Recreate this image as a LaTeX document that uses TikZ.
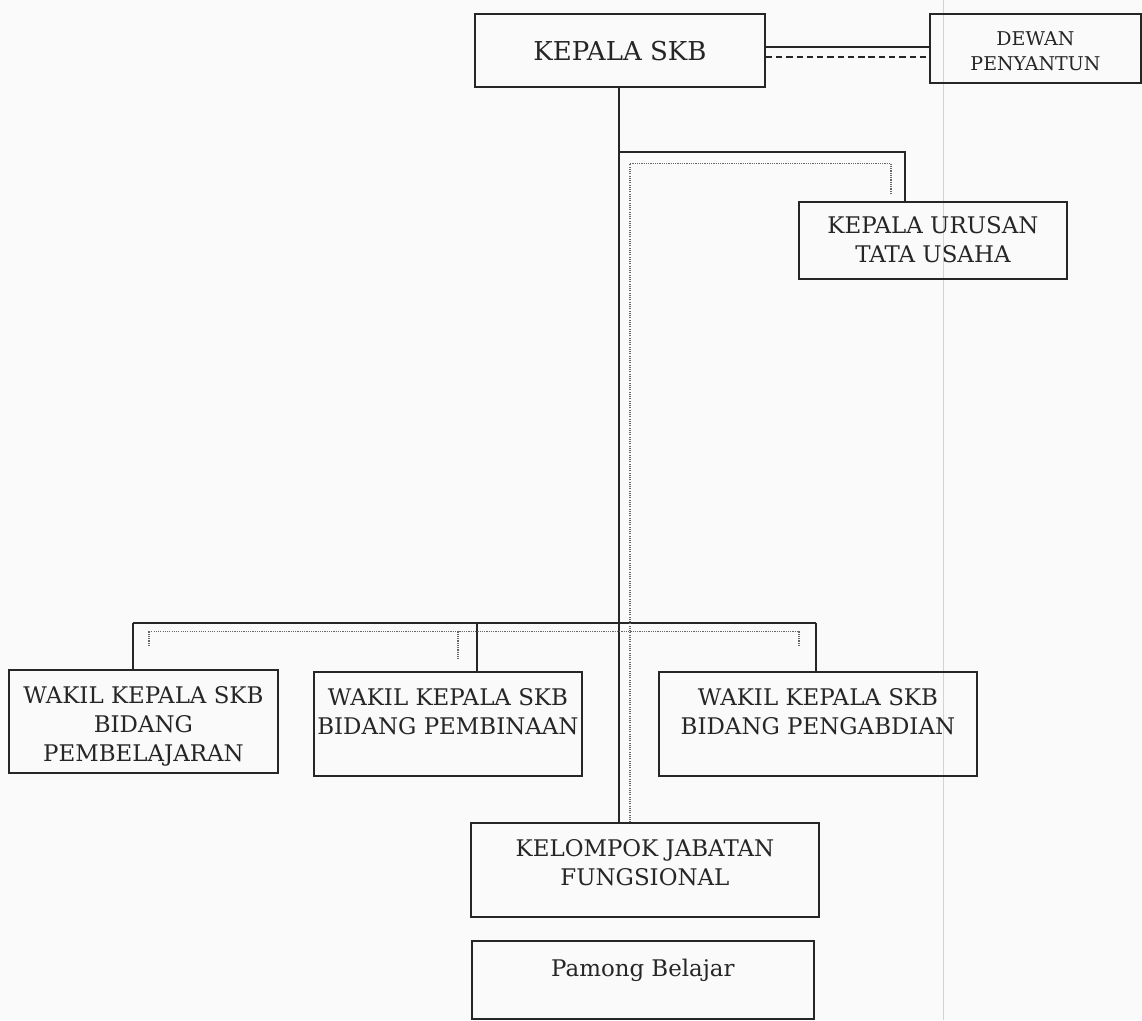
\documentclass[tikz,border=0pt]{standalone}
\usepackage{fontspec}
\setmainfont{DejaVu Serif}
\usetikzlibrary{positioning}
\definecolor{garis}{HTML}{262626}
\definecolor{abu}{HTML}{666666}
\definecolor{latar}{HTML}{FAFAFA}
\definecolor{kuning}{HTML}{E8D3A0}
\newlength{\px}\setlength{\px}{0.025cm}
\tikzset{
  kotak/.style={draw=garis,line width=1.3pt,inner sep=0pt,anchor=north west,
    text=garis,font=\fontsize{16.3}{20.5}\selectfont},
  garis/.style={draw=garis,line width=1.4pt},
  titik/.style={draw=abu,line width=0.9pt,dash pattern=on 0.8pt off 0.8pt},
  putus/.style={draw=garis,line width=1.4pt,dash pattern=on 4.5pt off 2.8pt}
}
\begin{document}
\begin{tikzpicture}[x=0.025cm,y=-0.025cm]
\fill[latar] (0,0) rectangle (1142,1020);
\draw[kuning,line width=0.6pt] (943,0) -- (943,1020);
% name, corner, width, height, first baseline, text
\def\kotak#1#2#3#4#5#6{
\node[kotak] (#1) at (#2) {\parbox[c][#4\px][t]{#3\px}{\centering\rule{0pt}{#5\px}#6\par}};
}
\kotak{kepala}{474,13}{290}{73}{46}{\fontsize{18.5}{22}\selectfont KEPALA SKB}
\kotak{dewan}{929,13}{211}{69}{31}{\fontsize{13.5}{18}\selectfont DEWAN\\PENYANTUN}
\kotak{tu}{798,201}{268}{77}{31}{KEPALA URUSAN\\TATA USAHA}
\kotak{wakil1}{8,669}{269}{103}{33}{WAKIL KEPALA SKB\\BIDANG\\PEMBELAJARAN}
\kotak{wakil2}{313,671}{268}{104}{33}{WAKIL KEPALA SKB\\BIDANG PEMBINAAN}
\kotak{wakil3}{658,671}{318}{104}{33}{WAKIL KEPALA SKB\\BIDANG PENGABDIAN}
\kotak{kelompok}{470,822}{348}{94}{33}{KELOMPOK JABATAN\\FUNGSIONAL}
\kotak{pamong}{471,940}{342}{78}{35}{Pamong Belajar}
% garis ke dewan penyantun
\coordinate (dw1) at (0,47);
\coordinate (dw2) at (0,57);
\draw[garis] (kepala.east |- dw1) -- (dewan.west |- dw1);
\draw[putus] (kepala.east |- dw2) -- (dewan.west |- dw2);
% garis komando
\coordinate (cabang) at (619,152);
\coordinate (tu1) at (905,0);
\draw[garis] (kepala.south -| cabang) -- (kelompok.north -| cabang);
\draw[garis] (cabang) -| (tu.north -| tu1);
\coordinate (bawah1) at (133,623);
\coordinate (bawah2) at (477,623);
\coordinate (bawah3) at (816,623);
\draw[garis] (bawah1) -- (bawah3);
\draw[garis] (bawah1) -- (bawah1 |- wakil1.north);
\draw[garis] (bawah2) -- (bawah2 |- wakil2.north);
\draw[garis] (bawah3) -- (bawah3 |- wakil3.north);
% garis koordinasi
\coordinate (k1) at (630,163);
\coordinate (k2) at (891,163);
\coordinate (k3) at (891,193);
\draw[titik] (kelompok.north -| k1) -- (k1) -- (k2) -- (k3);
\coordinate (s1) at (149,631);
\coordinate (s2) at (458,631);
\coordinate (s3) at (799,631);
\draw[titik] (s1) -- (s3);
\draw[titik] (s1) -- (149,645);
\draw[titik] (s2) -- (458,659);
\draw[titik] (s3) -- (799,645);
\end{tikzpicture}
\end{document}
